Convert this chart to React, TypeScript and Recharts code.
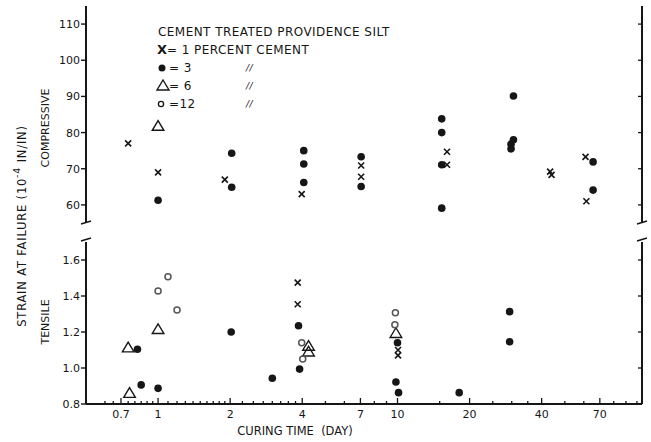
import React from "react";
import { ScatterChart, Scatter, XAxis, YAxis } from "recharts";

// curing time (days) / strain (1e-4 in/in)
const compX1 = [
  { t: 0.75, s: 77 }, { t: 1, s: 69 }, { t: 1.9, s: 67 }, { t: 3.98, s: 63 },
  { t: 7.05, s: 70.9 }, { t: 7.05, s: 67.8 }, { t: 16.1, s: 74.7 }, { t: 16.1, s: 71.1 },
  { t: 43.4, s: 69.2 }, { t: 44, s: 68.3 }, { t: 61, s: 73.3 }, { t: 61.5, s: 61 },
];
const compDot3 = [
  { t: 1, s: 61.3 }, { t: 2.03, s: 74.3 }, { t: 2.03, s: 64.9 }, { t: 4.06, s: 75 },
  { t: 4.06, s: 71.3 }, { t: 4.06, s: 66.2 }, { t: 7.05, s: 73.3 }, { t: 7.05, s: 65.1 },
  { t: 15.3, s: 83.8 }, { t: 15.3, s: 80 }, { t: 15.3, s: 71.1 }, { t: 15.3, s: 59.1 },
  { t: 30.5, s: 90.1 }, { t: 30.5, s: 78 }, { t: 29.8, s: 76.8 }, { t: 29.8, s: 75.5 },
  { t: 65.6, s: 71.9 }, { t: 65.6, s: 64.1 },
];
const compTri6 = [{ t: 1, s: 81.8 }];

const tensX1 = [
  { t: 3.83, s: 1.474 }, { t: 3.83, s: 1.354 }, { t: 10.05, s: 1.1 }, { t: 10.05, s: 1.07 },
];
const tensDot3 = [
  { t: 0.82, s: 1.104 }, { t: 0.85, s: 0.906 }, { t: 1, s: 0.887 }, { t: 2.02, s: 1.2 },
  { t: 3.0, s: 0.943 }, { t: 3.86, s: 1.235 }, { t: 3.9, s: 0.994 }, { t: 10, s: 1.14 },
  { t: 9.85, s: 0.922 }, { t: 10.1, s: 0.863 }, { t: 18.1, s: 0.863 }, { t: 29.4, s: 1.313 },
  { t: 29.4, s: 1.146 },
];
const tensTri6 = [
  { t: 0.75, s: 1.113 }, { t: 0.76, s: 0.86 }, { t: 1, s: 1.215 }, { t: 4.25, s: 1.122 },
  { t: 4.25, s: 1.09 }, { t: 9.85, s: 1.193 },
];
const tensCircle12 = [
  { t: 1, s: 1.428 }, { t: 1.1, s: 1.507 }, { t: 1.2, s: 1.322 }, { t: 3.98, s: 1.14 },
  { t: 4.02, s: 1.05 }, { t: 9.8, s: 1.307 }, { t: 9.75, s: 1.24 },
];

const majorDays = [0.7, 1, 2, 4, 7, 10, 20, 40, 70];
const minorDays = [
  0.6, 0.65, 0.75, 0.8, 0.85, 0.9, 0.95, 1.1, 1.2, 1.3, 1.4, 1.5, 1.6, 1.7, 1.8, 1.9,
  2.25, 2.5, 2.75, 3, 3.25, 3.5, 3.75, 5, 6, 8, 9, 15, 25, 30, 35, 50, 60, 80, 90, 100,
];
const compTicks = [60, 70, 80, 90, 100, 110];
const tensTicks = [0.8, 1.0, 1.2, 1.4, 1.6];

const dayTicks = [...majorDays, ...minorDays].sort((a, b) => a - b);
const FONT = "'DejaVu Sans', 'Liberation Sans', sans-serif";
const INK = "#161616";
const W = 651;

const XMark = ({ cx, cy }: any) => (
  <path
    d={`M${cx - 3},${cy - 3}L${cx + 3},${cy + 3}M${cx + 3},${cy - 3}L${cx - 3},${cy + 3}`}
    stroke={INK}
    strokeWidth={1.6}
  />
);
const Dot = ({ cx, cy }: any) => <circle cx={cx} cy={cy} r={3.8} fill={INK} />;
const Tri = ({ cx, cy }: any) => (
  <path
    d={`M${cx},${cy - 5.5}L${cx + 5.8},${cy + 4.2}L${cx - 5.8},${cy + 4.2}Z`}
    fill="none"
    stroke={INK}
    strokeWidth={1.4}
  />
);
const Ring = ({ cx, cy }: any) => (
  <circle cx={cx} cy={cy} r={3} fill="none" stroke="#555" strokeWidth={1.5} />
);

const isMajor = (v: number) => majorDays.some((m) => Math.abs(m - v) < 1e-6);

const BottomTick = ({ x, y, payload }: any) => {
  const major = isMajor(payload.value);
  return (
    <g>
      <line x1={x} x2={x} y1={y} y2={y - (major ? 6 : 3)} stroke={INK} strokeWidth={1.3} />
      {major && (
        <text x={x} y={y + 14} textAnchor="middle" fontSize={11} fontFamily={FONT} fill={INK}>
          {payload.value}
        </text>
      )}
    </g>
  );
};
const TopTick = ({ x, y, payload }: any) => (
  <line x1={x} x2={x} y1={y} y2={y + (isMajor(payload.value) ? 6 : 3)} stroke={INK} strokeWidth={1.3} />
);
const LeftTick = ({ x, y, payload, dec }: any) => (
  <g>
    <line x1={x - 5} x2={x + 1} y1={y} y2={y} stroke={INK} strokeWidth={1.4} />
    <text x={x - 6} y={y} dy={4} textAnchor="end" fontSize={11} fontFamily={FONT} fill={INK}>
      {dec ? payload.value.toFixed(1) : payload.value}
    </text>
  </g>
);
const RightTick = ({ x, y }: any) => (
  <line x1={x - 4} x2={x} y1={y} y2={y} stroke={INK} strokeWidth={1.3} />
);

const axisLine = { stroke: INK, strokeWidth: 2 };

export default function App() {
  return (
    <div style={{ position: "absolute", left: 0, top: 0, width: W, height: 442, background: "#fff" }}>
      <div style={{ position: "absolute", left: 0, top: 0 }}>
        <ScatterChart width={W} height={230} margin={{ top: 6, right: 0, bottom: 7, left: 0 }}>
          <XAxis
            type="number"
            dataKey="t"
            scale="log"
            domain={[0.5, 105]}
            allowDataOverflow
            orientation="top"
            height={0}
            ticks={dayTicks}
            interval={0}
            tickSize={0}
            tickMargin={0}
            tick={(p: any) => <TopTick {...p} />}
            axisLine={axisLine}
          />
          <YAxis
            yAxisId="l"
            type="number"
            dataKey="s"
            domain={[55, 115]}
            allowDataOverflow
            width={86}
            ticks={compTicks}
            interval={0}
            tickSize={0}
            tickMargin={0}
            tick={(p: any) => <LeftTick {...p} />}
            axisLine={axisLine}
          />
          <YAxis
            yAxisId="r"
            orientation="right"
            type="number"
            domain={[55, 115]}
            allowDataOverflow
            width={9}
            ticks={compTicks}
            interval={0}
            tickSize={0}
            tickMargin={0}
            tick={(p: any) => <RightTick {...p} />}
            axisLine={axisLine}
          />
          <Scatter yAxisId="l" data={compX1} shape={XMark} isAnimationActive={false} />
          <Scatter yAxisId="l" data={compDot3} shape={Dot} isAnimationActive={false} />
          <Scatter yAxisId="l" data={compTri6} shape={Tri} isAnimationActive={false} />
        </ScatterChart>
      </div>
      <div style={{ position: "absolute", left: 0, top: 230 }}>
        <ScatterChart width={W} height={212} margin={{ top: 12, right: 0, bottom: 0, left: 0 }}>
          <XAxis
            type="number"
            dataKey="t"
            scale="log"
            domain={[0.5, 105]}
            allowDataOverflow
            height={38}
            ticks={dayTicks}
            interval={0}
            tickSize={0}
            tickMargin={0}
            tick={(p: any) => <BottomTick {...p} />}
            axisLine={axisLine}
          />
          <YAxis
            yAxisId="l"
            type="number"
            dataKey="s"
            domain={[0.8, 1.7]}
            allowDataOverflow
            width={86}
            ticks={tensTicks}
            interval={0}
            tickSize={0}
            tickMargin={0}
            tick={(p: any) => <LeftTick {...p} dec />}
            axisLine={axisLine}
          />
          <YAxis
            yAxisId="r"
            orientation="right"
            type="number"
            domain={[0.8, 1.7]}
            allowDataOverflow
            width={9}
            ticks={tensTicks}
            interval={0}
            tickSize={0}
            tickMargin={0}
            tick={(p: any) => <RightTick {...p} />}
            axisLine={axisLine}
          />
          <Scatter yAxisId="l" data={tensX1} shape={XMark} isAnimationActive={false} />
          <Scatter yAxisId="l" data={tensDot3} shape={Dot} isAnimationActive={false} />
          <Scatter yAxisId="l" data={tensTri6} shape={Tri} isAnimationActive={false} />
          <Scatter yAxisId="l" data={tensCircle12} shape={Ring} isAnimationActive={false} />
        </ScatterChart>
      </div>
      <svg
        width={W}
        height={442}
        style={{ position: "absolute", left: 0, top: 0, pointerEvents: "none" }}
        fontFamily={FONT}
        fill={INK}
      >
        {/* axis breaks */}
        <g stroke={INK} strokeWidth={1.4}>
          <line x1={81} y1={224} x2={91} y2={221} />
          <line x1={81} y1={241} x2={91} y2={238} />
          <line x1={637} y1={224} x2={647} y2={221} />
          <line x1={637} y1={241} x2={647} y2={238} />
        </g>
        {/* legend */}
        <g fontSize={12} letterSpacing={0.45}>
          <text x={158} y={36}>CEMENT TREATED PROVIDENCE SILT</text>
          <text x={157} y={54} fontSize={13} fontWeight="bold">X</text>
          <text x={167} y={54}>= 1 PERCENT CEMENT</text>
          <circle cx={162} cy={68} r={3.5} fill={INK} />
          <text x={169} y={72}>= 3</text>
          <path d="M163,80L169,90L157,90Z" fill="none" stroke={INK} strokeWidth={1.4} />
          <text x={169} y={90}>= 6</text>
          <circle cx={161} cy={104} r={2.6} fill="none" stroke={INK} strokeWidth={1.3} />
          <text x={169} y={108}>=12</text>
          <text x={246} y={71} fontSize={9} fontStyle="italic">//</text>
          <text x={246} y={89} fontSize={9} fontStyle="italic">//</text>
          <text x={246} y={107} fontSize={9} fontStyle="italic">//</text>
        </g>
        {/* axis titles */}
        <text
          transform="translate(26,226) rotate(-90)"
          textAnchor="middle"
          fontSize={11.5}
          letterSpacing={0.8}
        >
          STRAIN AT FAILURE (10
          <tspan dy={-6} fontSize={9.5}>-4</tspan>
          <tspan dy={6}> IN/IN)</tspan>
        </text>
        <text transform="translate(49,128) rotate(-90)" textAnchor="middle" fontSize={11}>
          COMPRESSIVE
        </text>
        <text transform="translate(49,322) rotate(-90)" textAnchor="middle" fontSize={11}>
          TENSILE
        </text>
        <text x={295} y={435} textAnchor="middle" fontSize={11.5} xmlSpace="preserve">
          CURING TIME  (DAY)
        </text>
      </svg>
    </div>
  );
}
